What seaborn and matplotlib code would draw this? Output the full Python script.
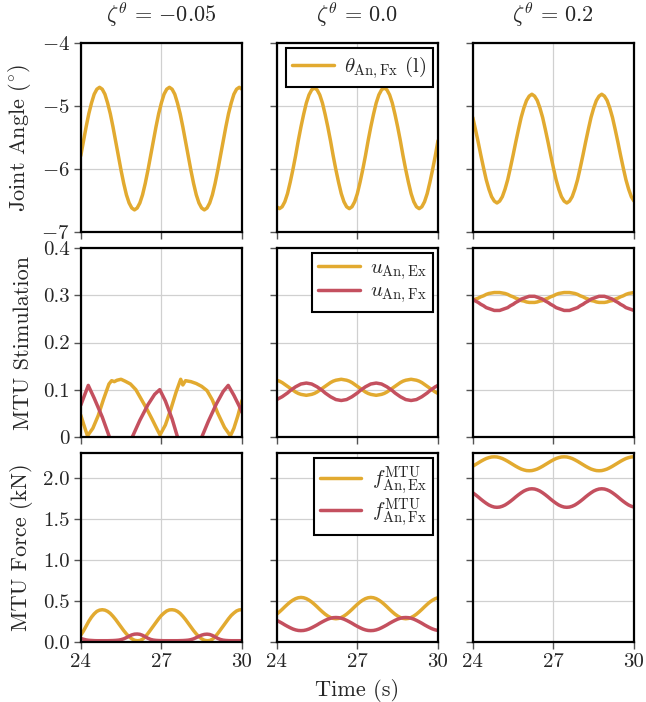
import numpy as np
import matplotlib
matplotlib.use("Agg")
import matplotlib.pyplot as plt
import seaborn as sns

# ---------------- data ----------------
time_grid = [round(24.0 + 0.1 * k, 1) for k in range(61)]

zeta_titles = [r"$\zeta^{\theta}\,=\,{-0.05}$", r"$\zeta^{\theta}\,=\,0.0$", r"$\zeta^{\theta}\,=\,0.2$"]

theta_zm005 = [-5.79, -5.56, -5.33, -5.12, -4.95, -4.81, -4.73, -4.70, -4.73, -4.81,
               -4.95, -5.12, -5.33, -5.56, -5.79, -6.02, -6.23, -6.41, -6.54, -6.62,
               -6.65, -6.62, -6.54, -6.41, -6.23, -6.02, -5.79, -5.56, -5.33, -5.12,
               -4.95, -4.81, -4.73, -4.70, -4.73, -4.81, -4.95, -5.12, -5.33, -5.56,
               -5.79, -6.02, -6.23, -6.41, -6.54, -6.62, -6.65, -6.62, -6.54, -6.41,
               -6.23, -6.02, -5.79, -5.56, -5.33, -5.12, -4.95, -4.81, -4.73, -4.70, -4.73]
theta_z0 = [-6.60, -6.63, -6.60, -6.52, -6.39, -6.21, -6.01, -5.79, -5.55, -5.33,
            -5.13, -4.95, -4.82, -4.74, -4.71, -4.74, -4.82, -4.95, -5.13, -5.33,
            -5.55, -5.79, -6.01, -6.21, -6.39, -6.52, -6.60, -6.63, -6.60, -6.52,
            -6.39, -6.21, -6.01, -5.79, -5.55, -5.33, -5.13, -4.95, -4.82, -4.74,
            -4.71, -4.74, -4.82, -4.95, -5.13, -5.33, -5.55, -5.79, -6.01, -6.21,
            -6.39, -6.52, -6.60, -6.63, -6.60, -6.52, -6.39, -6.21, -6.01, -5.79, -5.55]
theta_z02 = [-5.18, -5.37, -5.57, -5.78, -5.98, -6.17, -6.32, -6.44, -6.51, -6.54,
             -6.51, -6.44, -6.32, -6.17, -5.98, -5.78, -5.57, -5.37, -5.18, -5.03,
             -4.91, -4.84, -4.81, -4.84, -4.91, -5.03, -5.18, -5.37, -5.57, -5.78,
             -5.98, -6.17, -6.32, -6.44, -6.51, -6.54, -6.51, -6.44, -6.32, -6.17,
             -5.98, -5.78, -5.57, -5.37, -5.18, -5.03, -4.91, -4.84, -4.81, -4.84,
             -4.91, -5.03, -5.18, -5.37, -5.57, -5.78, -5.98, -6.17, -6.32, -6.44, -6.51]

# stimulation, zeta = -0.05 (irregular samples)
u_ex_zm005_t = [24.0, 24.1, 24.25, 24.45, 24.65, 24.85, 25.05, 25.15, 25.25, 25.35,
                25.5, 25.65, 25.85, 26.05, 26.25, 26.45, 26.65, 26.85, 26.95, 27.15,
                27.35, 27.55, 27.72, 27.8, 27.9, 28.1, 28.3, 28.5, 28.7, 28.9,
                29.1, 29.35, 29.57, 29.7, 29.85, 30.0]
u_ex_zm005 = [0.046, 0.028, 0.002, 0.018, 0.045, 0.080, 0.112, 0.119, 0.117, 0.120,
              0.122, 0.118, 0.112, 0.100, 0.080, 0.060, 0.038, 0.015, 0.004, 0.025,
              0.058, 0.095, 0.122, 0.110, 0.119, 0.117, 0.113, 0.107, 0.098, 0.078,
              0.050, 0.020, 0.002, 0.018, 0.045, 0.077]
u_fx_zm005_t = [24.0, 24.28, 24.5, 24.8, 25.09, 25.89, 26.2, 26.5, 26.75, 26.94,
                27.15, 27.4, 27.62, 28.48, 28.75, 29.05, 29.3, 29.49, 29.7, 29.9, 30.0]
u_fx_zm005 = [0.067, 0.109, 0.082, 0.042, -0.004, -0.004, 0.035, 0.068, 0.090, 0.100,
              0.076, 0.038, -0.004, -0.004, 0.033, 0.070, 0.096, 0.109, 0.088, 0.065, 0.052]

u_ex_z0 = [.120, .118, .115, .111, .107, .103, .099, .095, .092, .090,
           .089, .088, .089, .090, .092, .095, .099, .103, .107, .111,
           .115, .118, .120, .121, .122, .121, .120, .118, .115, .111,
           .107, .103, .099, .095, .092, .090, .089, .088, .089, .090,
           .092, .095, .099, .103, .107, .111, .115, .118, .120, .121,
           .122, .121, .120, .118, .115, .111, .107, .103, .099, .095, .092]
u_fx_z0 = [.079, .082, .085, .089, .093, .098, .102, .106, .109, .112,
           .113, .114, .113, .112, .109, .106, .102, .098, .093, .089,
           .085, .082, .079, .078, .077, .078, .079, .082, .085, .089,
           .093, .098, .102, .106, .109, .112, .113, .114, .113, .112,
           .109, .106, .102, .098, .093, .089, .085, .082, .079, .078,
           .077, .078, .079, .082, .085, .089, .093, .098, .102, .106, .109]
u_ex_z02 = [.289, .292, .294, .297, .299, .302, .304, .305, .306, .306,
            .306, .305, .304, .302, .299, .297, .294, .292, .289, .288,
            .286, .285, .285, .285, .286, .288, .289, .292, .294, .297,
            .299, .302, .304, .305, .306, .306, .306, .305, .304, .302,
            .299, .297, .294, .292, .289, .288, .286, .285, .285, .285,
            .286, .288, .289, .292, .294, .297, .299, .302, .304, .305, .306]
u_fx_z02 = [.292, .288, .285, .281, .278, .274, .272, .270, .268, .268,
            .268, .270, .272, .274, .278, .281, .285, .288, .292, .294,
            .296, .298, .298, .298, .296, .294, .292, .288, .285, .281,
            .278, .274, .272, .270, .268, .268, .268, .270, .272, .274,
            .278, .281, .285, .288, .292, .294, .296, .298, .298, .298,
            .296, .294, .292, .288, .285, .281, .278, .274, .272, .270, .268]

f_ex_zm005 = [.080, .130, .190, .250, .300, .340, .370, .385, .390, .385,
              .370, .345, .310, .270, .225, .180, .135, .095, .060, .035,
              .018, .012, .015, .030, .060, .100, .145, .190, .235, .280,
              .320, .350, .375, .388, .390, .385, .370, .345, .310, .270,
              .225, .180, .135, .095, .060, .035, .018, .012, .015, .030,
              .060, .100, .145, .190, .235, .280, .320, .350, .375, .388, .390]
f_fx_zm005 = [.040, .030, .022, .017, .015, .013, .012, .012, .012, .012,
              .012, .013, .014, .016, .019, .025, .035, .050, .068, .083,
              .092, .094, .090, .078, .060, .042, .028, .020, .016, .014,
              .013, .012, .012, .012, .012, .012, .012, .013, .014, .016,
              .019, .025, .035, .050, .066, .080, .089, .092, .088, .076,
              .058, .040, .027, .019, .015, .013, .012, .012, .012, .012, .012]
f_ex_z0 = [.336, .364, .394, .426, .456, .484, .507, .525, .536, .540,
           .536, .525, .507, .484, .456, .426, .394, .364, .336, .313,
           .295, .284, .280, .284, .295, .313, .336, .364, .394, .426,
           .456, .484, .507, .525, .536, .540, .536, .525, .507, .484,
           .456, .426, .394, .364, .336, .313, .295, .284, .280, .284,
           .295, .313, .336, .364, .394, .426, .456, .484, .507, .525, .536]
f_fx_z0 = [.260, .243, .225, .205, .187, .170, .155, .144, .137, .135,
           .137, .144, .155, .170, .187, .205, .225, .243, .260, .275,
           .286, .293, .295, .293, .286, .275, .260, .243, .225, .205,
           .187, .170, .155, .144, .137, .135, .137, .144, .155, .170,
           .187, .205, .225, .243, .260, .275, .286, .293, .295, .293,
           .286, .275, .260, .243, .225, .205, .187, .170, .155, .144, .137]
f_ex_z02 = [2.140, 2.160, 2.180, 2.200, 2.218, 2.234, 2.245, 2.253, 2.255, 2.253,
            2.245, 2.234, 2.218, 2.200, 2.180, 2.160, 2.140, 2.122, 2.106, 2.095,
            2.087, 2.085, 2.087, 2.095, 2.106, 2.122, 2.140, 2.160, 2.180, 2.200,
            2.218, 2.234, 2.245, 2.253, 2.255, 2.253, 2.245, 2.234, 2.218, 2.200,
            2.180, 2.160, 2.140, 2.122, 2.106, 2.095, 2.087, 2.085, 2.087, 2.095,
            2.106, 2.122, 2.140, 2.160, 2.180, 2.200, 2.218, 2.234, 2.245, 2.253, 2.255]
f_fx_z02 = [1.816, 1.792, 1.766, 1.738, 1.712, 1.688, 1.667, 1.652, 1.642, 1.639,
            1.642, 1.652, 1.667, 1.688, 1.712, 1.738, 1.766, 1.792, 1.816, 1.837,
            1.852, 1.862, 1.865, 1.862, 1.852, 1.837, 1.816, 1.792, 1.766, 1.738,
            1.712, 1.688, 1.667, 1.652, 1.642, 1.639, 1.642, 1.652, 1.667, 1.688,
            1.712, 1.738, 1.766, 1.792, 1.816, 1.837, 1.852, 1.862, 1.865, 1.862,
            1.852, 1.837, 1.816, 1.792, 1.766, 1.738, 1.712, 1.688, 1.667, 1.652, 1.642]

row_labels = [r"Joint Angle $(^{\circ})$", "MTU Stimulation", "MTU Force (kN)"]
angle_ticks = [-7, -6, -5, -4]
angle_ticklabels = [r"$-7$", r"$-6$", r"$-5$", r"$-4$"]
stim_ticks = [0, 0.1, 0.2, 0.3, 0.4]
stim_ticklabels = ["0", "0.1", "0.2", "0.3", "0.4"]
force_ticks = [0, 0.5, 1.0, 1.5, 2.0]
force_ticklabels = ["0.0", "0.5", "1.0", "1.5", "2.0"]
time_ticks = [24, 27, 30]
time_ticklabels = ["24", "27", "30"]

lab_theta = r"$\theta_{\mathrm{An,Fx}}$ (l)"
lab_u_ex = r"$u_{\mathrm{An,Ex}}$"
lab_u_fx = r"$u_{\mathrm{An,Fx}}$"
lab_f_ex = r"$f^{\mathrm{MTU}}_{\mathrm{An,Ex}}$"
lab_f_fx = r"$f^{\mathrm{MTU}}_{\mathrm{An,Fx}}$"

# ---------------- style ----------------
sns.set_theme(style="whitegrid")
plt.rcParams.update({
    "font.family": ["cmr10", "DejaVu Serif"],
    "mathtext.fontset": "cm",
    "axes.formatter.use_mathtext": True,
    "axes.unicode_minus": True,
})

YEL = "#E2AA30"
RED = "#C4505F"
LW = 2.5

fig, axes = plt.subplots(3, 3, figsize=(6.46, 7.02), dpi=100, sharex=True, sharey="row")
fig.subplots_adjust(left=0.125, right=0.9814, top=0.9383, bottom=0.0859,
                    wspace=0.216, hspace=0.0865)

def draw(ax, t, v, color, label=None):
    sns.lineplot(x=t, y=v, ax=ax, color=color, linewidth=LW, estimator=None,
                 sort=False, label=label, legend=label is not None)

# row 1
draw(axes[0, 0], time_grid, theta_zm005, YEL)
draw(axes[0, 1], time_grid, theta_z0, YEL, lab_theta)
draw(axes[0, 2], time_grid, theta_z02, YEL)
# row 2
draw(axes[1, 0], u_ex_zm005_t, u_ex_zm005, YEL)
draw(axes[1, 0], u_fx_zm005_t, u_fx_zm005, RED)
draw(axes[1, 1], time_grid, u_ex_z0, YEL, lab_u_ex)
draw(axes[1, 1], time_grid, u_fx_z0, RED, lab_u_fx)
draw(axes[1, 2], time_grid, u_ex_z02, YEL)
draw(axes[1, 2], time_grid, u_fx_z02, RED)
# row 3
draw(axes[2, 0], time_grid, f_ex_zm005, YEL)
draw(axes[2, 0], time_grid, f_fx_zm005, RED)
draw(axes[2, 1], time_grid, f_ex_z0, YEL, lab_f_ex)
draw(axes[2, 1], time_grid, f_fx_z0, RED, lab_f_fx)
draw(axes[2, 2], time_grid, f_ex_z02, YEL)
draw(axes[2, 2], time_grid, f_fx_z02, RED)

ylims = [(-7, -4), (0, 0.4), (0, 2.3)]
yticks = [(angle_ticks, angle_ticklabels), (stim_ticks, stim_ticklabels),
          (force_ticks, force_ticklabels)]

for r in range(3):
    for c in range(3):
        ax = axes[r, c]
        ax.set_facecolor("white")
        ax.set_axisbelow(True)
        ax.grid(True, color="#d0d0d0", linewidth=0.9)
        for s in ax.spines.values():
            s.set_color("black")
            s.set_linewidth(1.6)
            s.set_zorder(5)
        ax.tick_params(axis="both", which="major", direction="out", length=5,
                       width=1.0, color="#555555", left=True, bottom=True,
                       labelsize=15, pad=3)
        ax.set_xlim(24, 30)
        ax.set_ylim(*ylims[r])
        ax.set_xlabel("")
        ax.set_ylabel("")
    axes[r, 0].set_yticks(yticks[r][0], yticks[r][1])
    axes[r, 0].set_ylabel(row_labels[r], fontsize=16, labelpad=6)

axes[2, 0].set_xticks(time_ticks, time_ticklabels)
axes[2, 1].set_xlabel("Time (s)", fontsize=16, labelpad=6)

for c in range(3):
    axes[0, c].set_title(zeta_titles[c], fontsize=16, pad=15)

leg_spacing = [0.15, 0.0, -0.05]
for r in range(3):
    ax = axes[r, 1]
    leg = ax.legend(loc="upper right", frameon=True, fancybox=False, framealpha=1,
                    edgecolor="black", fontsize=15, handlelength=2.0,
                    handletextpad=0.5, borderpad=0.3, labelspacing=leg_spacing[r],
                    borderaxespad=0.22)
    leg.get_frame().set_linewidth(1.5)
    leg.get_frame().set_facecolor("white")

fig.align_ylabels(axes[:, 0])
fig.savefig("out.png", dpi=100)
